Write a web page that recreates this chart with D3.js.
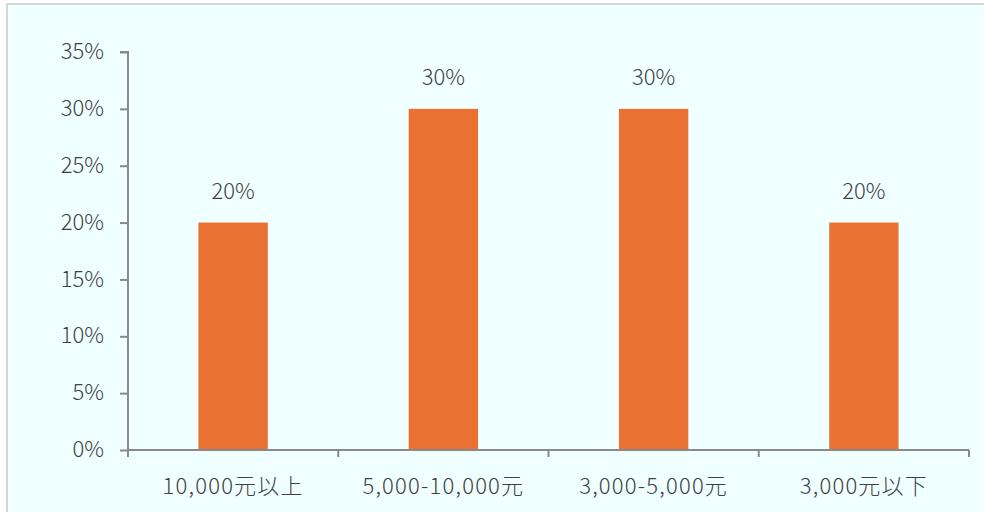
<!DOCTYPE html>
<html>
<head>
<meta charset="utf-8">
<script src="https://cdn.jsdelivr.net/npm/d3@7"></script>
<style>
  html, body { margin: 0; padding: 0; background: #ffffff; }
  svg { display: block; }
  text { font-family: "Noto Sans CJK JP", "Noto Sans", sans-serif; font-weight: 300; fill: #404040; }
</style>
</head>
<body>
<svg id="chart" width="984" height="512"></svg>
<script>
// Share of respondents by monthly spending bracket
const categories = ["10,000元以上", "5,000-10,000元", "3,000-5,000元", "3,000元以下"];
const values = [0.20, 0.30, 0.30, 0.20];
const yTicks = [0, 0.05, 0.10, 0.15, 0.20, 0.25, 0.30, 0.35];

const W = 984, H = 512;
const margin = { left: 128, right: 15, top: 52, bottom: 62 };
const fontSize = 22;
const svg = d3.select("#chart");

// panel background with a light frame on the top and left
svg.append("rect")
  .attr("x", 7).attr("y", 4)
  .attr("width", W).attr("height", H)
  .attr("fill", "#f0ffff")
  .attr("stroke", "#d6d6d6")
  .attr("stroke-width", 2);

const x = d3.scaleBand()
  .domain(categories)
  .range([margin.left, W - margin.right])
  .paddingInner(0.67)
  .paddingOuter(0.335);

const y = d3.scaleLinear()
  .domain([0, 0.35])
  .range([H - margin.bottom, margin.top]);

const axisColor = "#898989";

// bars
svg.append("g").selectAll("rect")
  .data(values)
  .join("rect")
  .attr("x", (d, i) => x(categories[i]))
  .attr("y", d => y(d))
  .attr("width", x.bandwidth())
  .attr("height", d => y(0) - y(d))
  .attr("fill", "#e97132");

// value labels
svg.append("g").selectAll("text")
  .data(values)
  .join("text")
  .attr("x", (d, i) => x(categories[i]) + x.bandwidth() / 2)
  .attr("y", d => y(d) - 24)
  .attr("text-anchor", "middle")
  .attr("font-size", fontSize)
  .text(d => d3.format(".0%")(d));

// y axis
const yAxis = d3.axisLeft(y)
  .tickValues(yTicks)
  .tickFormat(d3.format(".0%"))
  .tickSize(8)
  .tickPadding(16);
const gy = svg.append("g")
  .attr("transform", `translate(${margin.left},0)`)
  .call(yAxis);
gy.select(".domain").attr("stroke", axisColor).attr("stroke-width", 2)
  .attr("d", `M-8,${y(0.35)}H0V${y(0) + 7}`);
gy.selectAll(".tick line").attr("stroke", axisColor).attr("stroke-width", 2);
gy.selectAll(".tick text").attr("font-size", fontSize).attr("fill", "#404040")
  .attr("dy", "0.3em")
  .style("font-family", '"Noto Sans CJK JP", "Noto Sans", sans-serif')
  .style("font-weight", 300);

// x axis with ticks on category boundaries
const xr = x.range();
const boundaries = d3.range(categories.length + 1).map(i => xr[0] + i * (xr[1] - xr[0]) / categories.length);
const gx = svg.append("g");
gx.append("line")
  .attr("x1", xr[0]).attr("x2", xr[1])
  .attr("y1", y(0)).attr("y2", y(0))
  .attr("stroke", axisColor).attr("stroke-width", 2);
gx.selectAll("line.tk")
  .data(boundaries)
  .join("line")
  .attr("class", "tk")
  .attr("x1", d => d).attr("x2", d => d)
  .attr("y1", y(0)).attr("y2", y(0) + 7)
  .attr("stroke", axisColor).attr("stroke-width", 2);
gx.selectAll("text")
  .data(categories)
  .join("text")
  .attr("x", d => x(d) + x.bandwidth() / 2)
  .attr("y", y(0) + 44)
  .attr("text-anchor", "middle")
  .attr("font-size", fontSize)
  .attr("letter-spacing", 1.2)
  .text(d => d);
</script>
</body>
</html>
